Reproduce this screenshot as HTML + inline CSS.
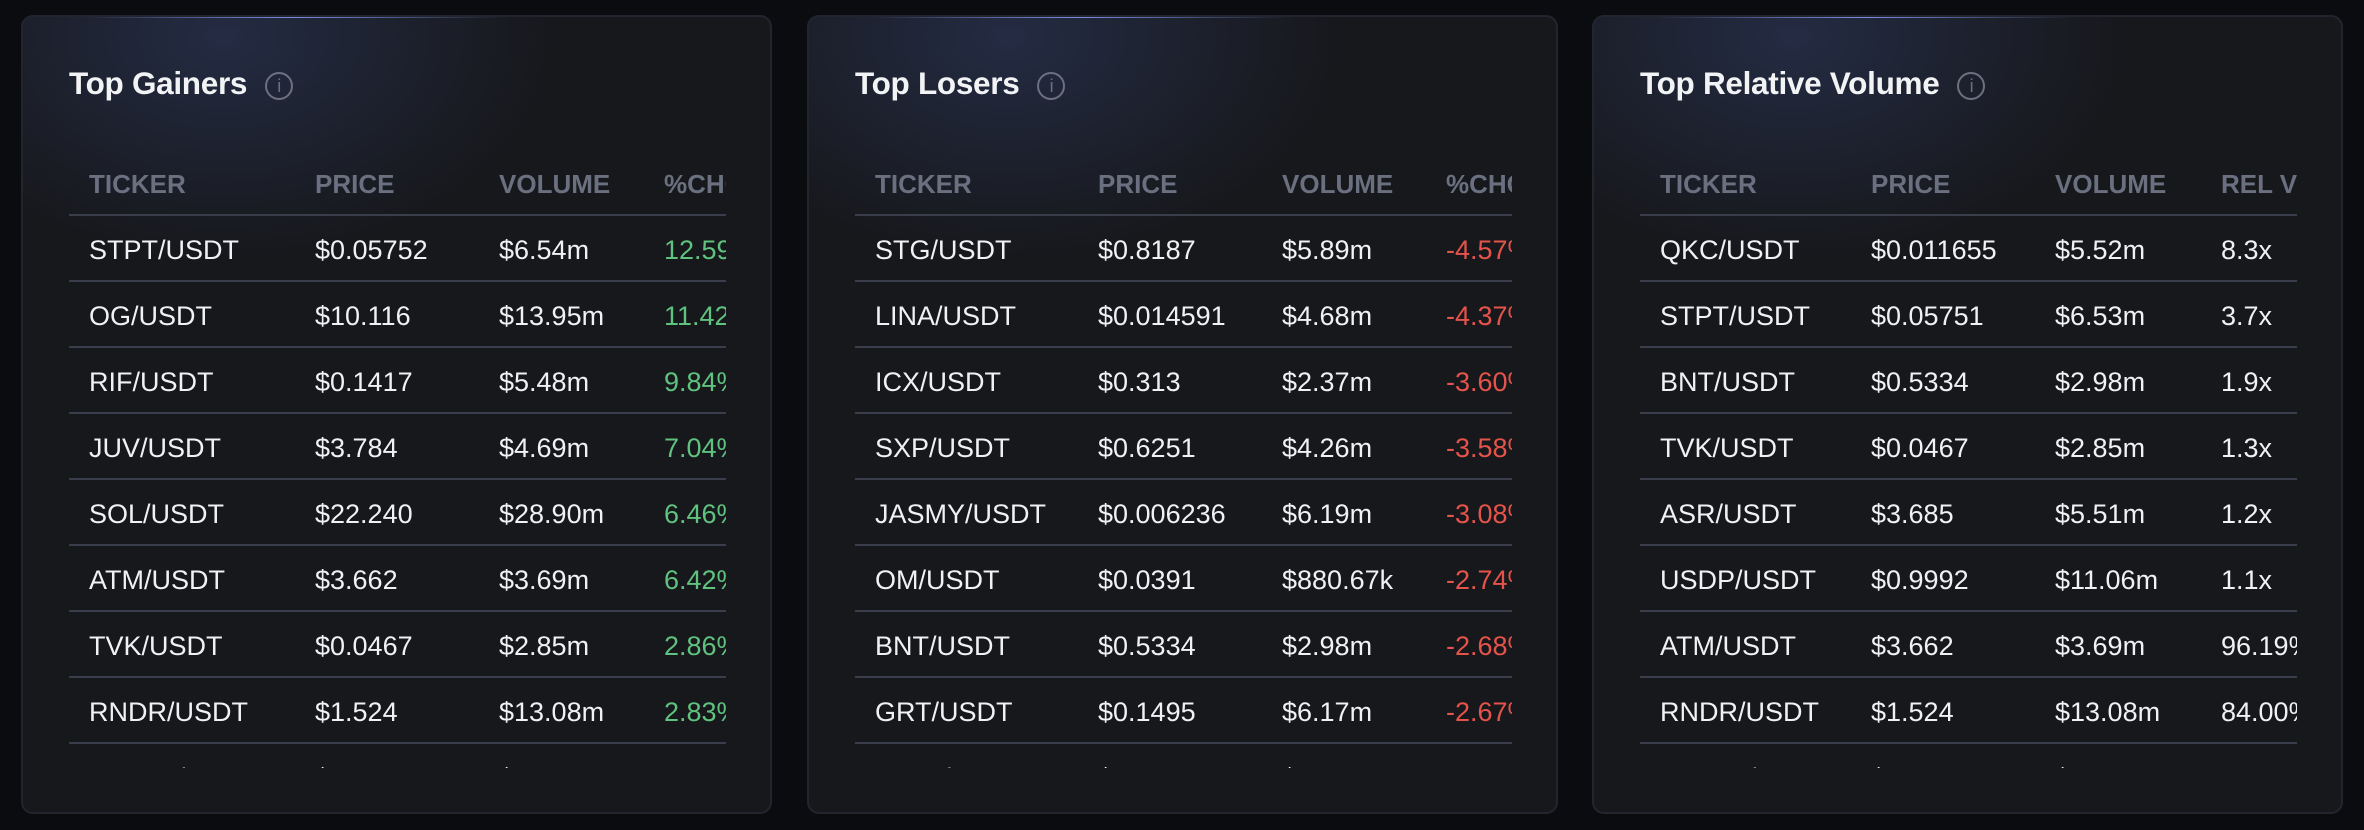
<!DOCTYPE html>
<html><head><meta charset="utf-8"><style>
*{margin:0;padding:0;box-sizing:border-box}
body{width:2364px;height:830px;background:#0b0c0f;font-family:"Liberation Sans",sans-serif;position:relative;overflow:hidden}
.card{position:absolute;top:15px;width:751px;height:799px;border:2px solid #23252e;border-radius:12px;background:radial-gradient(ellipse 330px 220px at 200px 20px,rgba(60,80,140,0.35),rgba(23,24,28,0) 100%),#17181c;overflow:hidden}
.card:before{content:"";position:absolute;left:60px;top:-1px;width:420px;height:2px;background:linear-gradient(90deg,rgba(120,140,230,0),rgba(130,150,240,0.9),rgba(120,140,230,0))}
.title{position:absolute;left:46px;top:48px;color:#f2f3f5;font-size:31.5px;font-weight:bold;letter-spacing:-0.3px}
.info{display:inline-block;width:28px;height:28px;border:2px solid #6c7080;border-radius:50%;color:#6c7080;font-size:18px;text-align:center;line-height:24px;font-weight:normal;margin-left:18px;vertical-align:2px}
.tbl{position:absolute;left:46px;top:133px;width:657px;height:618px;overflow:hidden}
.row{position:absolute;left:0;width:657px;height:66px;border-bottom:2px solid #3a3d4a;font-size:27px;color:#f0f1f3}
.row span{position:absolute;top:19px;white-space:nowrap}
.hd{color:#6b7080;font-size:26px;font-weight:bold}
.g{color:#5fc27e}.r{color:#e5534b}
</style></head><body>
<div class="card" style="left:21px"><div class="title">Top Gainers<span class="info">i</span></div><div class="tbl" id="t1"></div></div>
<div class="card" style="left:807px"><div class="title">Top Losers<span class="info">i</span></div><div class="tbl" id="t2"></div></div>
<div class="card" style="left:1592px"><div class="title">Top Relative Volume<span class="info">i</span></div><div class="tbl" id="t3"></div></div>
<script>
function build(id,cols,head,rows,cls){
 var t=document.getElementById(id),h='';
 h+='<div class="row hd" style="top:0px">';
 head.forEach(function(c,i){h+='<span style="left:'+cols[i]+'px">'+c+'</span>'});
 h+='</div>';
 rows.forEach(function(r,k){
  var top=66+66*k;
  h+='<div class="row" style="top:'+top+'px">';
  r.forEach(function(c,i){h+='<span class="'+(i==3?cls:'')+'" style="left:'+cols[i]+'px">'+c+'</span>'});
  h+='</div>';
 });
 t.innerHTML=h;
}
build('t1',[20,246,430,595],['TICKER','PRICE','VOLUME','%CHG'],[
['STPT/USDT','$0.05752','$6.54m','12.59%'],['OG/USDT','$10.116','$13.95m','11.42%'],['RIF/USDT','$0.1417','$5.48m','9.84%'],['JUV/USDT','$3.784','$4.69m','7.04%'],['SOL/USDT','$22.240','$28.90m','6.46%'],['ATM/USDT','$3.662','$3.69m','6.42%'],['TVK/USDT','$0.0467','$2.85m','2.86%'],['RNDR/USDT','$1.524','$13.08m','2.83%'],['ALPHA/USDT','$0.1234','$4.12m','2.51%']],'g');
build('t2',[20,243,427,591],['TICKER','PRICE','VOLUME','%CHG'],[
['STG/USDT','$0.8187','$5.89m','-4.57%'],['LINA/USDT','$0.014591','$4.68m','-4.37%'],['ICX/USDT','$0.313','$2.37m','-3.60%'],['SXP/USDT','$0.6251','$4.26m','-3.58%'],['JASMY/USDT','$0.006236','$6.19m','-3.08%'],['OM/USDT','$0.0391','$880.67k','-2.74%'],['BNT/USDT','$0.5334','$2.98m','-2.68%'],['GRT/USDT','$0.1495','$6.17m','-2.67%'],['KAVA/USDT','$0.1234','$4.12m','-2.51%']],'r');
build('t3',[20,231,415,581],['TICKER','PRICE','VOLUME','REL VOL'],[
['QKC/USDT','$0.011655','$5.52m','8.3x'],['STPT/USDT','$0.05751','$6.53m','3.7x'],['BNT/USDT','$0.5334','$2.98m','1.9x'],['TVK/USDT','$0.0467','$2.85m','1.3x'],['ASR/USDT','$3.685','$5.51m','1.2x'],['USDP/USDT','$0.9992','$11.06m','1.1x'],['ATM/USDT','$3.662','$3.69m','96.19%'],['RNDR/USDT','$1.524','$13.08m','84.00%'],['ALPHA/USDT','$0.1234','$4.12m','80.00%']],'');
</script>
</body></html>
